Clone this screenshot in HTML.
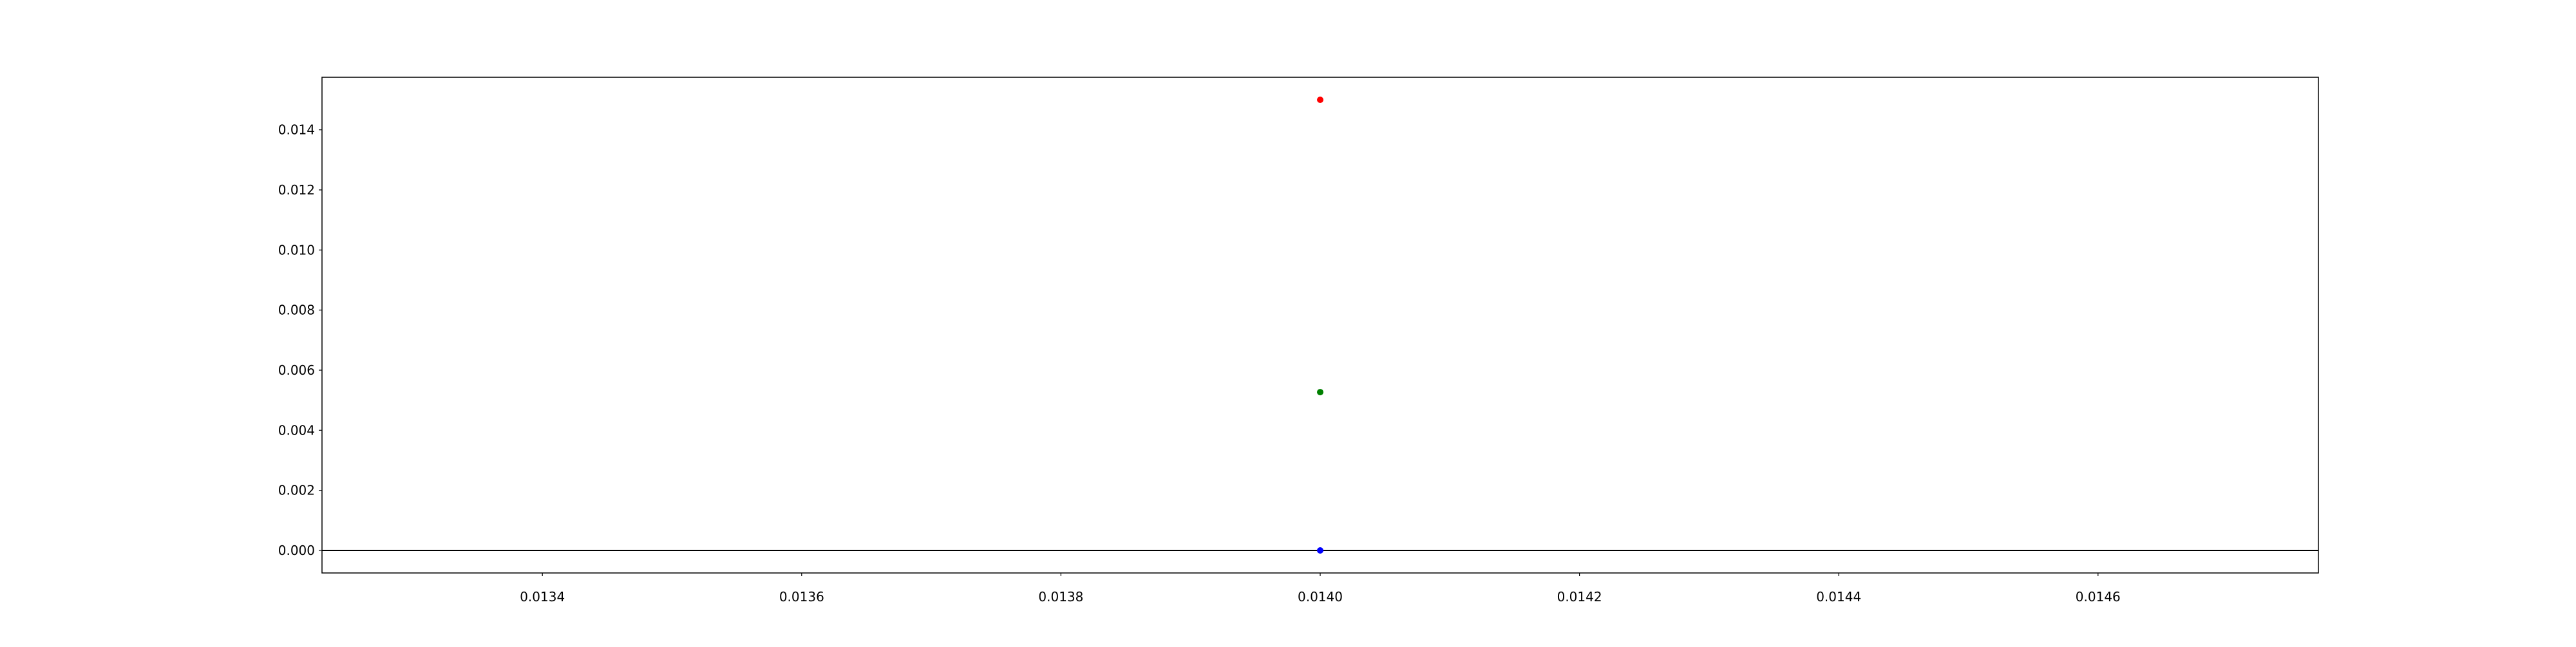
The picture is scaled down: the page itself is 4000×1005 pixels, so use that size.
<!DOCTYPE html>
<html><head><meta charset="utf-8"><style>
html,body{margin:0;padding:0;background:#fff;}
svg text{font-family:"DejaVu Sans","Liberation Sans",sans-serif;font-size:20px;fill:#000;}
</style></head><body>
<svg id="chart" width="4000" height="1000" xmlns="http://www.w3.org/2000/svg">
<rect width="4000" height="1000" fill="#fff"/>
<g id="grid"></g>
<g id="marks"></g>
<rect x="500" y="120" width="3100" height="770" fill="none" stroke="#000" stroke-width="1.5"/>
</svg>
<script>
const xValues = [0.014, 0.014, 0.014];
const yValues = [0.015, 0.00527, 0.0];
const pointColors = ['red', 'green', 'blue'];
const xTicks = [0.0134, 0.0136, 0.0138, 0.0140, 0.0142, 0.0144, 0.0146];
const xTickLabels = ['0.0134','0.0136','0.0138','0.0140','0.0142','0.0144','0.0146'];
const yTicks = [0, 0.002, 0.004, 0.006, 0.008, 0.010, 0.012, 0.014];
const yTickLabels = ['0.000','0.002','0.004','0.006','0.008','0.010','0.012','0.014'];
const hLineValue = [0];

const L=500,R=3600,T=120,B=890;
const xmin=0.01323,xmax=0.01477;
const ymin=-0.00075,ymax=0.01575;
const sx=v=>L+(v-xmin)/(xmax-xmin)*(R-L);
const sy=v=>B-(v-ymin)/(ymax-ymin)*(B-T);
const NS='http://www.w3.org/2000/svg';
const g=document.getElementById('grid'), m=document.getElementById('marks');
function mk(tag,attrs,parent){const e=document.createElementNS(NS,tag);for(const k in attrs)e.setAttribute(k,attrs[k]);parent.appendChild(e);return e;}
xTicks.forEach((v,i)=>{
  const x=sx(v);
  const t=mk('line',{x1:x,x2:x,y1:B,y2:B+5,stroke:'#000','stroke-width':1.2},g);
  
  
  const tx=mk('text',{x:x,y:B+44,'text-anchor':'middle'},g);
  tx.textContent=xTickLabels[i];
  
  
});
yTicks.forEach((v,i)=>{
  const y=sy(v);
  const t=mk('line',{x1:L-5,x2:L,y1:y,y2:y,stroke:'#000','stroke-width':1.2},g);
  
  
  const tx=mk('text',{x:L-11,y:y+7,'text-anchor':'end'},g);
  tx.textContent=yTickLabels[i];
  
  
});
hLineValue.forEach(v=>{
  const l=mk('line',{x1:L,x2:R,y1:sy(v),y2:sy(v),stroke:'#000','stroke-width':2},m);
  
  
});
xValues.forEach((xv,i)=>{
  const c=mk('circle',{cx:sx(xv),cy:sy(yValues[i]),r:5,fill:pointColors[i]},m);
  
  
});
</script>
</body></html>
